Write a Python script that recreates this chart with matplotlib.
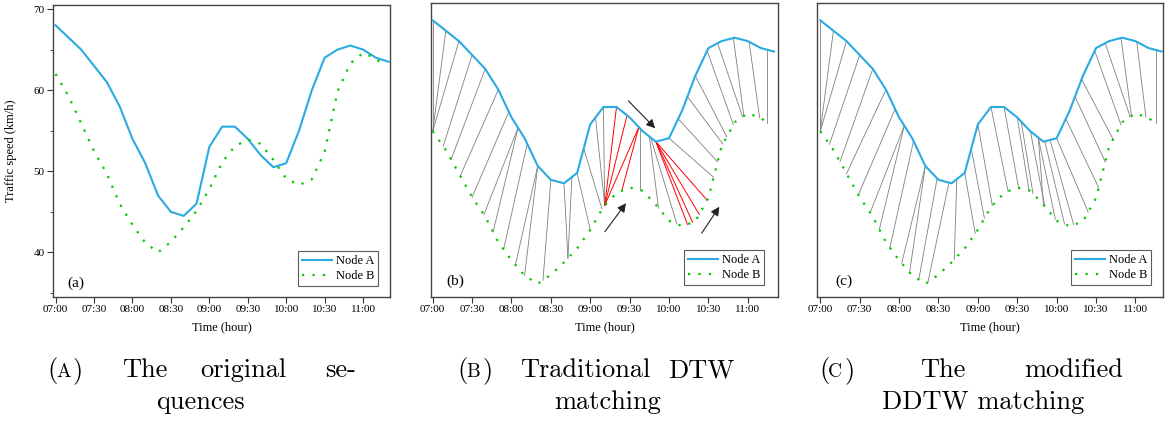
import numpy as np
import matplotlib.pyplot as plt

# Traffic speed sequences (km/h) of two nodes, 10-minute samples
time_a = ['07:00', '07:10', '07:20', '07:30', '07:40', '07:50', '08:00', '08:10', '08:20',
          '08:30', '08:40', '08:50', '09:00', '09:10', '09:20', '09:30', '09:40', '09:50',
          '10:00', '10:10', '10:20', '10:30', '10:40', '10:50', '11:00', '11:10', '11:20']
speed_a = [68, 66.5, 65, 63, 61, 58, 54, 51, 47,
           45, 44.5, 46, 53, 55.5, 55.5, 54, 52, 50.5,
           51, 55, 60, 64, 65, 65.5, 65, 64, 63.5]

time_b = ['07:00', '07:10', '07:20', '07:30', '07:40', '07:50', '08:00', '08:10', '08:20',
          '08:30', '08:40', '08:50', '09:00', '09:10', '09:20', '09:30', '09:40', '09:50',
          '10:00', '10:10', '10:20', '10:30', '10:40', '10:50', '11:00', '11:10', '11:15']
speed_b = [62.0, 59.3, 55.9, 52.5, 49.7, 46.0, 43.4, 41.2, 40.0,
           41.3, 43.1, 45.1, 47.8, 51.1, 53.1, 53.9, 53.4, 51.4,
           49.1, 48.3, 49.0, 52.4, 59.8, 63.3, 64.6, 63.9, 63.2]

# node B is drawn lower in the matching panels so the links are visible
shift_b = 10

# matched pairs (minutes after 07:00 on A, minutes after 07:00 on B)
links_dtw = [(0, 0), (10, 0), (20, 0), (30, 8), (40, 14), (50, 21), (58, 30), (65, 39),
             (65, 46), (72, 54), (80, 63), (80, 70), (90, 84), (100, 103), (106, 103),
             (110, 120), (115, 129), (124, 131), (130, 131), (158, 158), (165, 172),
             (166, 186), (180, 214), (187, 217), (194, 221), (200, 224), (209, 229),
             (217, 236), (229, 237), (241, 249), (255, 255)]
# singular matchings of the traditional DTW
links_dtw_bad = [(140, 131), (148, 131), (157, 131), (157, 144),
                 (170, 194), (170, 198), (170, 203), (170, 209)]
links_ddtw = [(0, 0), (10, 0), (20, 0), (30, 7), (40, 15), (50, 20), (57, 29), (64, 38),
              (64, 45), (71, 53), (80, 62), (80, 68), (89, 75), (98, 82), (104, 102),
              (110, 118), (115, 125), (120, 131), (130, 143), (140, 151), (150, 159),
              (153, 162), (160, 171), (166, 170), (166, 179), (171, 186), (175, 193),
              (180, 204), (187, 212), (194, 217), (199, 223), (209, 229), (217, 236),
              (229, 237), (241, 248), (256, 256)]

tick_labels = ['07:00', '07:30', '08:00', '08:30', '09:00', '09:30', '10:00', '10:30', '11:00']


def to_min(labels):
    return np.array([int(s[:2]) * 60 + int(s[3:]) - 7 * 60 for s in labels], dtype=float)


ta = to_min(time_a)
tb = to_min(time_b)
va = np.array(speed_a)
vb = np.array(speed_b)
ticks = to_min(tick_labels)

BLUE = '#29abe2'
GREEN = '#00c800'
SERIF = 'Liberation Serif'

plt.rcParams['font.family'] = SERIF
plt.rcParams['axes.linewidth'] = 1.0
plt.rcParams['axes.edgecolor'] = '#444444'

fig = plt.figure(figsize=(11.75, 4.22), dpi=100)
W, H = 1175, 422


def box(l, r, t, b):
    return [l / W, 1 - b / H, (r - l) / W, (b - t) / H]


ax_a = fig.add_axes(box(53, 390, 5, 297))
ax_b = fig.add_axes(box(431, 778, 3, 297))
ax_c = fig.add_axes(box(817, 1163, 3, 297))


def style(ax, xlim, ylim):
    ax.set_xlim(*xlim)
    ax.set_ylim(*ylim)
    ax.set_xticks(ticks)
    ax.set_xticklabels(tick_labels, fontsize=8)
    ax.tick_params(axis='x', direction='out', length=4, width=0.8, pad=2, color='#333333')
    ax.set_xlabel('Time (hour)', fontsize=9, labelpad=5)


def draw(ax, yb):
    ax.plot(ta, va, color=BLUE, lw=1.5, label='Node A', zorder=3)
    ax.plot(tb, yb, color=GREEN, lw=1.6, linestyle=(0, (1, 3.7)), label='Node B', zorder=3)
    leg = ax.legend(loc='lower right', fontsize=9, frameon=True, fancybox=False,
                    edgecolor='#333333', handlelength=2.4, handletextpad=0.3,
                    borderpad=0.3, labelspacing=0.25, borderaxespad=0)
    leg.get_frame().set_linewidth(0.8)
    return leg


def link(ax, pairs, yb, color, lw):
    for t1, t2 in pairs:
        ax.plot([t1, t2], [np.interp(t1, ta, va), np.interp(t2, tb, yb)],
                color=color, lw=lw, zorder=2)


# (a) original sequences
style(ax_a, (-2, 261), (34.5, 70.5))
draw(ax_a, vb)
ax_a.legend_.set_bbox_to_anchor((0.964, 0.038))
ax_a.set_yticks([40, 50, 60, 70])
ax_a.set_yticks([35, 45, 55, 65], minor=True)
ax_a.tick_params(axis='y', which='major', direction='out', length=4, width=0.8,
                 labelsize=8, pad=2, color='#333333')
ax_a.tick_params(axis='y', which='minor', direction='out', length=2, width=0.6,
                 color='#333333')
ax_a.set_ylabel('Traffic speed (km/h)', fontsize=9)
ax_a.yaxis.set_label_coords(-0.107, 0.5)
ax_a.text(0.068, 0.048, '(a)', transform=ax_a.transAxes, fontsize=11,
          ha='center', va='center')

# (b) traditional DTW
yb_shift = vb - shift_b
style(ax_b, (-1.3, 263), (28.1, 70.5))
ax_b.set_yticks([])
draw(ax_b, yb_shift)
ax_b.legend_.set_bbox_to_anchor((0.960, 0.041))
link(ax_b, links_dtw, yb_shift, '#7f7f7f', 0.6)
link(ax_b, links_dtw_bad, yb_shift, '#ff0000', 0.7)
ax_b.text(0.069, 0.054, '(b)', transform=ax_b.transAxes, fontsize=11,
          ha='center', va='center')
arrow = dict(arrowstyle='-|>', color='#222222', lw=0.8, mutation_scale=13,
             shrinkA=0, shrinkB=0)
for tail, head in [((0.569, 0.667), (0.646, 0.574)),
                   ((0.501, 0.222), (0.562, 0.319)),
                   ((0.780, 0.217), (0.831, 0.307))]:
    ax_b.annotate('', xy=head, xytext=tail, xycoords='axes fraction',
                  textcoords='axes fraction', arrowprops=arrow)

# (c) modified DDTW
style(ax_c, (-2.5, 261), (28.1, 70.5))
ax_c.set_yticks([])
draw(ax_c, yb_shift)
ax_c.legend_.set_bbox_to_anchor((0.965, 0.041))
link(ax_c, links_ddtw, yb_shift, '#7f7f7f', 0.6)
ax_c.text(0.079, 0.054, '(c)', transform=ax_c.transAxes, fontsize=11,
          ha='center', va='center')

# sub-captions, first line justified
CM = 'cmr10'
cap = dict(fontsize=19, family=CM, va='baseline')


def caption(letter, x0, x1, words1, line2, xc2):
    y1 = 1 - 377 / H
    y2 = 1 - 409 / H
    fig.text(x0 / W, y1, '(', **cap)
    fig.text((x0 + 9) / W, y1, letter, fontsize=14, family=CM, va='baseline')
    fig.text((x0 + 26) / W, y1, ')', **cap)
    for x, w in words1[:-1]:
        fig.text(x / W, y1, w, **cap)
    fig.text(x1 / W, y1, words1[-1][1], ha='right', **cap)
    fig.text(xc2 / W, y2, line2, ha='center', **cap)


caption('A', 47, 356, [(122, 'The'), (200, 'original'), (0, 'se-')], 'quences', 200)
caption('B', 457, 734, [(520, 'Traditional'), (0, 'DTW')], 'matching', 608)
caption('C', 819, 1123, [(920, 'The'), (0, 'modified')], 'DDTW matching', 983)

fig.savefig('out.png', dpi=100)
